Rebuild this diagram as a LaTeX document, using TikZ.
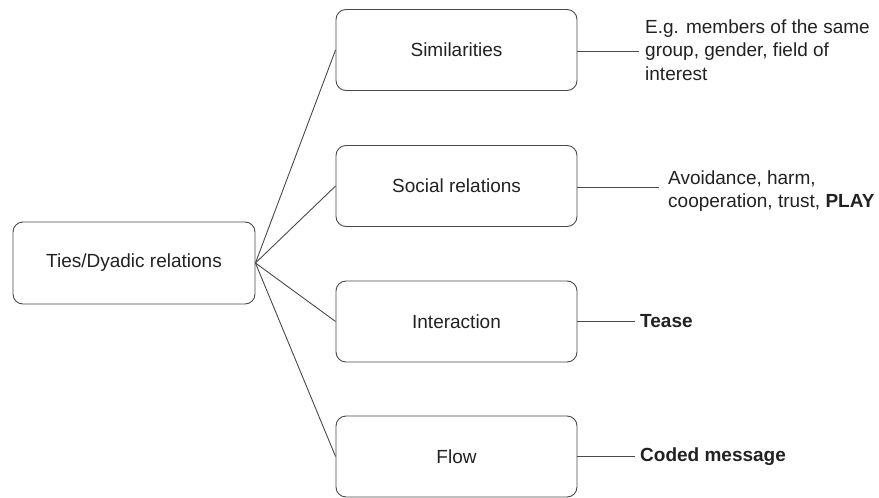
\documentclass[tikz,border=0pt]{standalone}
\usepackage{fontspec}
\setmainfont{Liberation Sans}
\definecolor{edge}{HTML}{4A4A4A}
\definecolor{ink}{HTML}{222222}
\tikzset{
  every node/.style={text=ink},
  box/.style={draw=edge, line width=0.9pt, rounded corners=10pt, minimum width=241pt, minimum height=81pt, inner sep=0pt,
    font=\fontsize{19}{23.5}\selectfont},
  note/.style={anchor=west, inner sep=0pt, align=left, font=\fontsize{19}{23.5}\selectfont},
  link/.style={draw=edge, line width=0.9pt}
}
\begin{document}
\begin{tikzpicture}[x=1pt,y=-1pt]
\useasboundingbox[fill=white] (0,0) rectangle (879,498);
\node[box, minimum width=242pt, minimum height=82pt] (root) at (134,263) {Ties/Dyadic relations};
\node[box] (sim) at (456.5,50) {Similarities};
\node[box] (soc) at (456.5,186) {Social relations};
\node[box] (int) at (456.5,321.5) {Interaction};
\node[box] (flow) at (456.5,456.5) {Flow};
\node[note] (simt) at (645,50) {E.g. members of the same\\group, gender, field of\\interest};
\node[note] (soct) at (668,191) {Avoidance, harm,\\cooperation, trust, \textbf{PLAY}};
\node[note] (intt) at (640,321) {\textbf{Tease}};
\node[note] (flowt) at (640,457) {\textbf{Coded message}};
\coordinate (a1) at (639,51);
\coordinate (a2) at (659,187);
\coordinate (a3) at (635,321.5);
\coordinate (a4) at (635,456.5);
\draw[link] (root.east) -- (sim.west);
\draw[link] (root.east) -- (soc.west);
\draw[link] (root.east) -- (int.west);
\draw[link] (root.east) -- (flow.west);
\draw[link] (sim.east |- a1) -- (a1);
\draw[link] (soc.east |- a2) -- (a2);
\draw[link] (int.east) -- (a3);
\draw[link] (flow.east) -- (a4);
\end{tikzpicture}
\end{document}
